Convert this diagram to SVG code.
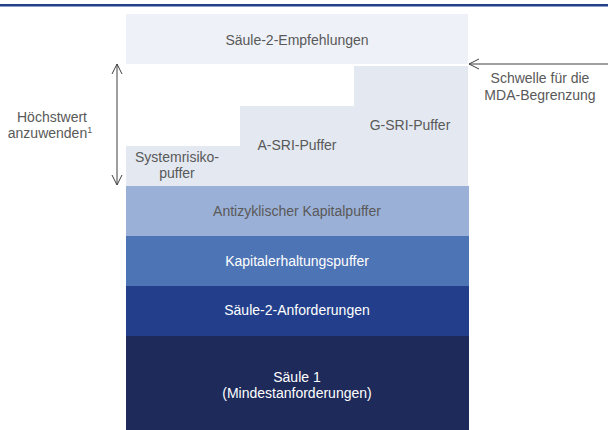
<svg xmlns="http://www.w3.org/2000/svg" width="608" height="430" viewBox="0 0 608 430">
<style>
text{font-family:"Liberation Sans",Arial,sans-serif;font-size:14px;text-anchor:middle}
.g{fill:#595959}
.w{fill:#ffffff}
.conn{stroke:#404040;stroke-width:1;fill:none}
</style>
<defs>
<marker id="open" viewBox="0 0 12 12" refX="11" refY="6" markerWidth="12" markerHeight="12" markerUnits="userSpaceOnUse" orient="auto-start-reverse">
<path d="M1,1 L11,6 L1,11" fill="none" stroke="#404040" stroke-width="1"/>
</marker>
</defs>
<rect x="0" y="4" width="608" height="2.5" fill="#22408a"/>
<g id="s2e"><rect x="126" y="14" width="342" height="50" fill="#eef1f7"/><text class="g" x="297" y="45">Säule-2-Empfehlungen</text></g>
<g id="systemrisiko"><rect x="126" y="146" width="114" height="40" fill="#e3e8f1"/><text class="g" x="177" y="162">Systemrisiko-</text><text class="g" x="177" y="178">puffer</text></g>
<g id="asri"><rect x="240" y="106" width="114" height="80" fill="#e3e8f1"/><text class="g" x="297" y="150">A-SRI-Puffer</text></g>
<g id="gsri"><rect x="354" y="66" width="114" height="120" fill="#e3e8f1"/><text class="g" x="410" y="130">G-SRI-Puffer</text></g>
<g id="antizyklisch"><rect x="126" y="186" width="343" height="50" fill="#9bb0d6"/><text class="g" x="297" y="216">Antizyklischer Kapitalpuffer</text></g>
<g id="kapitalerhaltung"><rect x="126" y="236" width="343" height="50" fill="#4d74b5"/><text class="w" x="297" y="266">Kapitalerhaltungspuffer</text></g>
<g id="s2a"><rect x="126" y="286" width="343" height="50" fill="#233f8b"/><text class="w" x="297" y="315">Säule-2-Anforderungen</text></g>
<g id="s1"><rect x="126" y="336" width="343" height="94" fill="#1e2a5a"/><text class="w" x="297" y="382">Säule 1</text><text class="w" x="297" y="398">(Mindestanforderungen)</text></g>
<g id="label-hoechst"><text class="g" x="52" y="122">Höchstwert</text><text class="g" x="50" y="138">anzuwenden<tspan font-size="9" dy="-5">1</tspan></text></g>
<g id="label-schwelle"><text class="g" x="540" y="83">Schwelle für die</text><text class="g" x="540" y="100">MDA-Begrenzung</text></g>
<g id="connectors">
<line class="conn" x1="117" y1="64" x2="117" y2="185" marker-start="url(#open)" marker-end="url(#open)"/>
<line class="conn" x1="469" y1="64" x2="608" y2="64" marker-start="url(#open)"/>
</g>
</svg>
